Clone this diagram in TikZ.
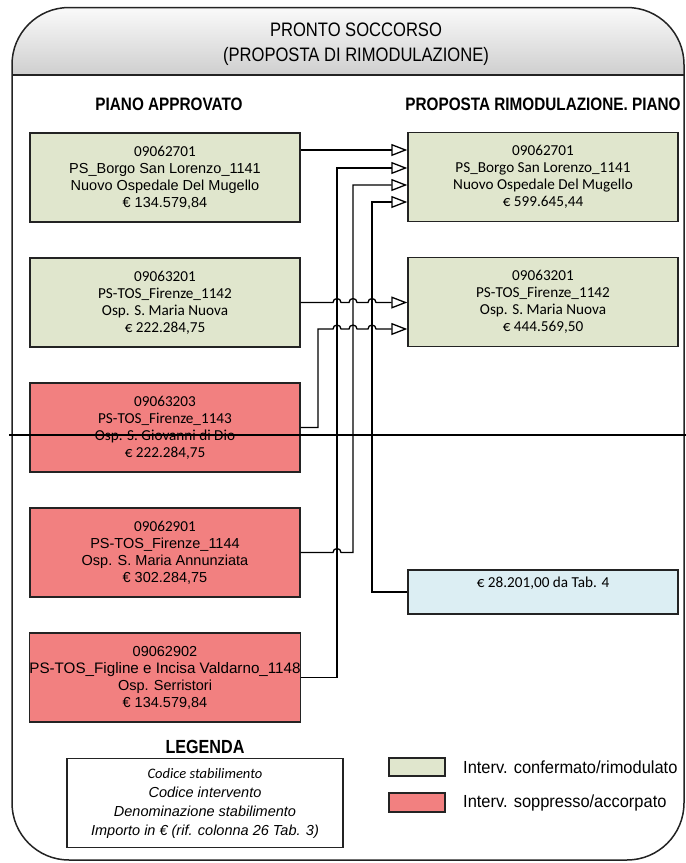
\documentclass[tikz,border=0pt]{standalone}
\usepackage{fontspec}
\setmainfont{Liberation Sans}
\newfontfamily\arial{Liberation Sans}
\newfontfamily\arialn[FakeStretch=0.85]{Liberation Sans}
\newfontfamily\arialm[FakeStretch=0.94]{Liberation Sans}
\newfontfamily\calibri{Carlito}
\usetikzlibrary{arrows.meta,calc}
\definecolor{boxgreen}{RGB}{224,230,205}
\definecolor{boxred}{RGB}{242,128,128}
\definecolor{boxblue}{RGB}{220,238,243}
\definecolor{edge}{RGB}{35,35,35}
\begin{document}
\begin{tikzpicture}[x=1pt,y=1pt,
  box/.style={draw=edge, line width=1.4pt, minimum width=270pt, minimum height=89pt, inner sep=0pt, align=center, font=\arial\fontsize{14.5}{17}\selectfont},
  gbox/.style={box, fill=boxgreen},
  rbox/.style={box, fill=boxred},
  bbox/.style={box, fill=boxblue, minimum height=44pt},
  cal/.style={font=\calibri\fontsize{15.2}{17}\selectfont},
  conn/.style={line width=1.3pt, draw=black},
  arr/.style={conn, -{Triangle[open, length=16pt, width=12pt, line width=1.3pt]}},
  hd/.style={font=\arialn\bfseries\fontsize{18}{20}\selectfont},
  ttl/.style={font=\arialn\fontsize{19.5}{22}\selectfont},
  lbl/.style={font=\arialm\fontsize{17.5}{20}\selectfont, anchor=west, inner sep=0pt},
  swatch/.style={draw=edge, line width=1.2pt, minimum width=56pt, inner sep=0pt},
]
\useasboundingbox (0,0) rectangle (686,-863);

% outer frame with shaded header
\shade[top color=gray!4, bottom color=gray!38] (12,-75) -- (12,-64.5) arc[start angle=180, end angle=90, radius=57] -- (627,-7.5) arc[start angle=90, end angle=0, radius=57] -- (684,-75) -- cycle;
\draw[line width=1.5pt, edge, rounded corners=57pt] (12,-7.5) rectangle (684,-860);
\draw[line width=1.3pt, edge] (12,-75) -- (684,-75);

\node[ttl] (title) at (356,-30) {PRONTO SOCCORSO};
\node[ttl] (subtitle) at (356,-56) {(PROPOSTA DI RIMODULAZIONE)};

\node[hd] (hleft) at (169,-104) {PIANO APPROVATO};
\node[hd] (hright) at (543,-104) {PROPOSTA RIMODULAZIONE. PIANO};

% left column
\node[gbox] (L1) at (165,-177.5) {{\calibri\fontsize{15.2}{17}\selectfont 09062701}\\PS\_Borgo San Lorenzo\_1141\\Nuovo Ospedale Del Mugello\\€ 134.579,84};
\node[gbox, cal] (L2) at (165,-302.5) {09063201\\PS-TOS\_Firenze\_1142\\Osp. S. Maria Nuova\\€ 222.284,75};
\node[rbox, cal] (L3) at (165,-427.5) {09063203\\PS-TOS\_Firenze\_1143\\Osp. S. Giovanni di Dio\\€ 222.284,75};
\node[rbox] (L4) at (165,-552.5) {{\calibri\fontsize{15.2}{17}\selectfont 09062901}\\PS-TOS\_Firenze\_1144\\Osp. S. Maria Annunziata\\€ 302.284,75};
\node[rbox] (L5) at (165,-677.5) {09062902\\{\fontsize{15.2}{17}\selectfont PS-TOS\_Figline e Incisa Valdarno\_1148}\\Osp. Serristori\\€ 134.579,84};

% right column
\node[gbox, cal] (R1) at (543,-177) {09062701\\PS\_Borgo San Lorenzo\_1141\\Nuovo Ospedale Del Mugello\\€ 599.645,44};
\node[gbox, cal] (R2) at (543,-302) {09063201\\PS-TOS\_Firenze\_1142\\Osp. S. Maria Nuova\\€ 444.569,50};
\node[bbox] (B) at (543,-592) {};
\node[cal] (Bt) at (543,-583) {€ 28.201,00 da Tab. 4};

% routing coordinates
\coordinate (va) at (318,0);
\coordinate (vb) at (337,0);
\coordinate (vc) at (353,0);
\coordinate (vd) at (372,0);
\coordinate (y150) at (0,-150);
\coordinate (y168) at (0,-168);
\coordinate (y185) at (0,-185);
\coordinate (y202) at (0,-202);
\coordinate (y329) at (0,-329);

% connectors
\draw[arr] (L1.east |- y150) -- (R1.west |- y150);
\draw[arr] (L5.east) -- (vb |- L5.east) -- (vb |- y168) -- (R1.west |- y168);
\draw[arr] (L4.east) -- ($(vb |- L4.east)+(-4,0)$) arc[start angle=180, end angle=0, radius=4] -- (vc |- L4.east) -- (vc |- y185) -- (R1.west |- y185);
\draw[arr] (B.west) -- (vd |- B.west) -- (vd |- y202) -- (R1.west |- y202);
\draw[arr] (L2.east) -- ($(vb |- L2.east)+(-4,0)$) arc[start angle=180, end angle=0, radius=4]
  -- ($(vc |- L2.east)+(-4,0)$) arc[start angle=180, end angle=0, radius=4]
  -- ($(vd |- L2.east)+(-4,0)$) arc[start angle=180, end angle=0, radius=4]
  -- (R2.west |- L2.east);
\draw[arr] (L3.east) -- (va |- L3.east) -- (va |- y329) -- ($(vb |- y329)+(-4,0)$) arc[start angle=180, end angle=0, radius=4]
  -- ($(vc |- y329)+(-4,0)$) arc[start angle=180, end angle=0, radius=4]
  -- ($(vd |- y329)+(-4,0)$) arc[start angle=180, end angle=0, radius=4]
  -- (R2.west |- y329);

% legend
\node[font=\arialn\bfseries\fontsize{19}{22}\selectfont] (legt) at (205,-747) {LEGENDA};
\node[draw=edge, line width=1.3pt, minimum width=276pt, minimum height=89pt, inner sep=0pt, align=center, font=\arial\itshape\fontsize{14.5}{19}\selectfont] (leg) at (205,-803) {{\calibri\itshape Codice stabilimento}\\Codice intervento\\Denominazione stabilimento\\Importo in € (rif. colonna 26 Tab. 3)};
\node[swatch, fill=boxgreen, minimum height=18pt] (sg) at (417,-767) {};
\node[swatch, fill=boxred, minimum height=19pt] (sr) at (417,-802.5) {};
\node[lbl] (lg) at (463,-767) {Interv. confermato/rimodulato};
\node[lbl] (lr) at (463,-803) {Interv. soppresso/accorpato};

% horizontal stroke crossing the page
\draw[line width=2.2pt, black] (9,-435) -- (686,-435);
\end{tikzpicture}
\end{document}
